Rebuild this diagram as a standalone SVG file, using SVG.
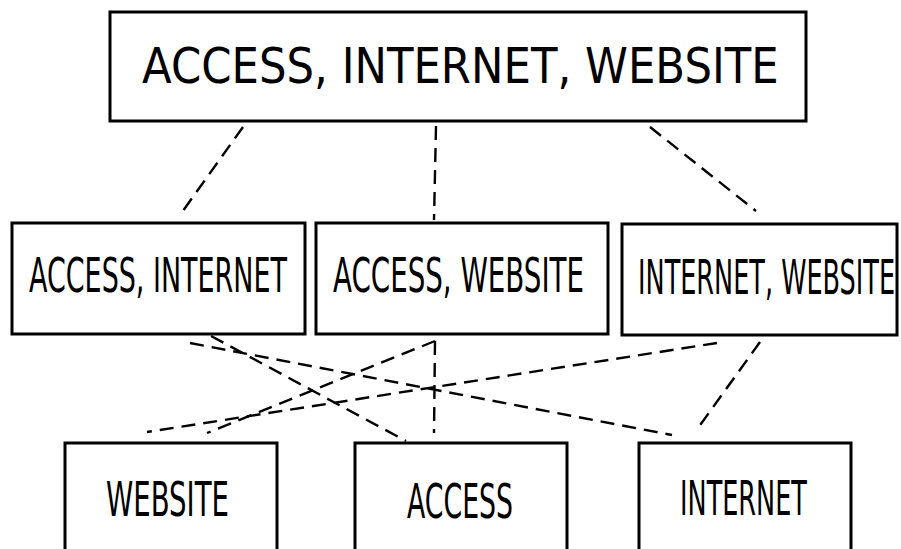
<svg xmlns="http://www.w3.org/2000/svg" width="901" height="549" viewBox="0 0 901 549">
<style>
.box{fill:#fff;stroke:#000;stroke-width:3}
.lbl{font-family:"DejaVu Sans","Liberation Sans",sans-serif;fill:#000;font-size:48px}
.edge{stroke:#000;stroke-width:2.4;stroke-dasharray:14,8;fill:none}
</style>
<rect width="901" height="549" fill="#fff"/>
<g id="connectors">
<line class="edge" x1="243" y1="127" x2="180" y2="215"/>
<line class="edge" x1="436" y1="126" x2="434" y2="220"/>
<line class="edge" x1="650" y1="127" x2="756" y2="211"/>
<line class="edge" x1="211" y1="336" x2="406" y2="441"/>
<line class="edge" x1="190" y1="343" x2="672" y2="435"/>
<line class="edge" x1="435" y1="341" x2="207" y2="433"/>
<line class="edge" x1="435" y1="341" x2="434" y2="433"/>
<line class="edge" x1="717" y1="343" x2="147" y2="432"/>
<line class="edge" x1="760" y1="342" x2="698" y2="428"/>
</g>
<g id="n_all">
<rect class="box" x="110" y="12" width="696" height="109"/>
<text class="lbl" style="font-size:50px" transform="translate(142,83) scale(0.866,1)" textLength="735.2" lengthAdjust="spacingAndGlyphs">ACCESS, INTERNET, WEBSITE</text>
</g>
<g id="n_access_internet">
<rect class="box" x="12" y="223" width="293" height="111"/>
<text class="lbl" transform="translate(29,292) scale(0.5605,1)" textLength="460.3" lengthAdjust="spacingAndGlyphs">ACCESS, INTERNET</text>
</g>
<g id="n_access_website">
<rect class="box" x="316" y="223" width="292" height="111"/>
<text class="lbl" transform="translate(333,292) scale(0.575,1)" textLength="436.6" lengthAdjust="spacingAndGlyphs">ACCESS, WEBSITE</text>
</g>
<g id="n_internet_website">
<rect class="box" x="622" y="224" width="275" height="111"/>
<text class="lbl" transform="translate(638,294) scale(0.531,1)" textLength="484.1" lengthAdjust="spacingAndGlyphs">INTERNET, WEBSITE</text>
</g>
<g id="n_website">
<rect class="box" x="65" y="443" width="212" height="130"/>
<text class="lbl" transform="translate(106,516) scale(0.572,1)" textLength="215" lengthAdjust="spacingAndGlyphs">WEBSITE</text>
</g>
<g id="n_access">
<rect class="box" x="355" y="443" width="212" height="130"/>
<text class="lbl" transform="translate(407,518) scale(0.555,1)" textLength="191.1" lengthAdjust="spacingAndGlyphs">ACCESS</text>
</g>
<g id="n_internet">
<rect class="box" x="639" y="443" width="212" height="130"/>
<text class="lbl" transform="translate(680,515) scale(0.532,1)" textLength="238.6" lengthAdjust="spacingAndGlyphs">INTERNET</text>
</g>
</svg>
